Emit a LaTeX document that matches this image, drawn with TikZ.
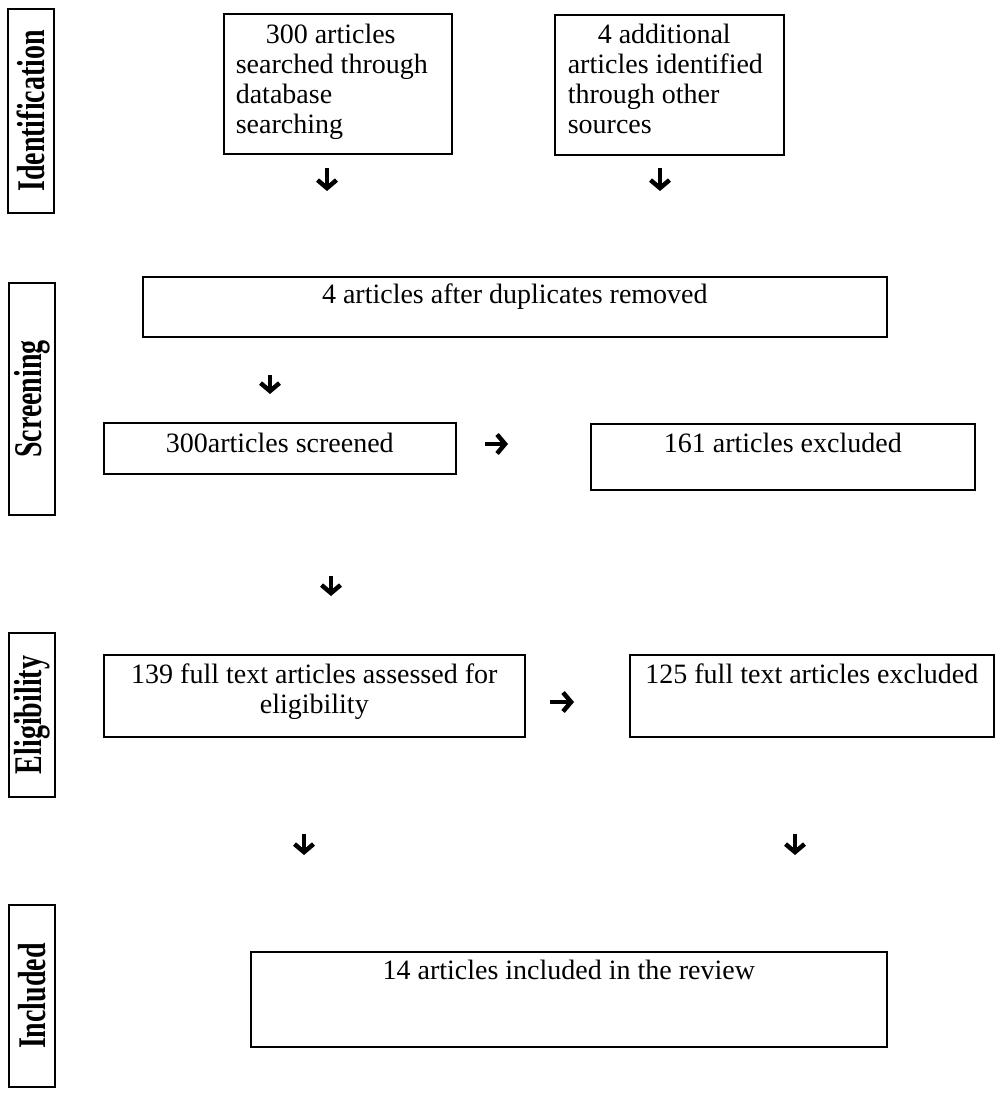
\documentclass[tikz,border=0pt]{standalone}
\usepackage{fontspec}
\setmainfont{Liberation Serif}
\usetikzlibrary{arrows.meta}
\newcommand\bodyfont{\fontsize{28}{30}\selectfont}
\newcommand\phasefont{\fontsize{28}{30}\selectfont\bfseries}
\tikzset{
  box/.style={draw=black, line width=1.6pt, inner xsep=0pt, inner ysep=0pt,
              font=\bodyfont, anchor=north west, align=flush center},
  phase/.style={draw=black, line width=1.3pt, rotate=90, inner sep=0pt,
                minimum height=46pt, font=\phasefont},
  flowarrow/.style={line width=4.2pt, -{Straight Barb[length=8pt,width=19pt,line width=4.5pt]}},
}
\begin{document}
\begin{tikzpicture}[x=1pt,y=-1pt]
\fill[white] (0,0) rectangle (999,1099);
\useasboundingbox (0,0) rectangle (999,1099);

% phase labels
\node[phase, minimum width=204pt] (pid) at (31,111) {\scalebox{1}[1.4]{Identification}};
\node[phase, minimum width=232pt] (psc) at (32,399) {\scalebox{1}[1.4]{Screening}};
\node[phase, minimum width=164pt] (pel) at (32,715) {\scalebox{1}[1.4]{Eligibility}};
\node[phase, minimum width=182pt] (pin) at (32,996) {\scalebox{1}[1.4]{Included}};

% boxes
\node[box, align=flush left, text width=204pt, inner xsep=12pt, text height=30pt, text depth=110pt]
  (db) at (223,13) {\hspace*{30pt}300 articles\\searched through\\database\\searching};
\node[box, align=flush left, text width=203pt, inner xsep=13pt, text height=29pt, text depth=111pt]
  (other) at (554,14) {\hspace*{30pt}4 additional\\articles identified\\through other\\sources};
\node[box, minimum width=744pt, text height=27pt, text depth=33pt]
  (dup) at (142,276) {4 articles after duplicates removed};
\node[box, minimum width=352pt, text height=30pt, text depth=21pt]
  (scr) at (103,422) {300articles screened};
\node[box, minimum width=384pt, text height=29pt, text depth=37pt]
  (exc) at (590,423) {161 articles excluded};
\node[box, text width=421pt, text height=29pt, text depth=53pt]
  (elig) at (103,654) {139 full text articles assessed for\\eligibility};
\node[box, minimum width=364pt, text height=29pt, text depth=53pt]
  (ftex) at (629,654) {125 full text articles excluded};
\node[box, minimum width=636pt, text height=28pt, text depth=67pt]
  (inc) at (250,951) {14 articles included in the review};

% free-standing arrows
\coordinate (a1s) at (327,168); \coordinate (a1e) at (327,191);
\coordinate (a2s) at (660,168); \coordinate (a2e) at (660,191);
\coordinate (a3s) at (270,375); \coordinate (a3e) at (270,394);
\coordinate (a4s) at (485,444); \coordinate (a4e) at (508,444);
\coordinate (a5s) at (331,576); \coordinate (a5e) at (331,596);
\coordinate (a6s) at (550,702); \coordinate (a6e) at (574,702);
\coordinate (a7s) at (304,834); \coordinate (a7e) at (304,855);
\coordinate (a8s) at (795,834); \coordinate (a8e) at (795,855);
\foreach \i in {1,...,8} {\draw[flowarrow] (a\i s) -- (a\i e);}
\end{tikzpicture}
\end{document}
